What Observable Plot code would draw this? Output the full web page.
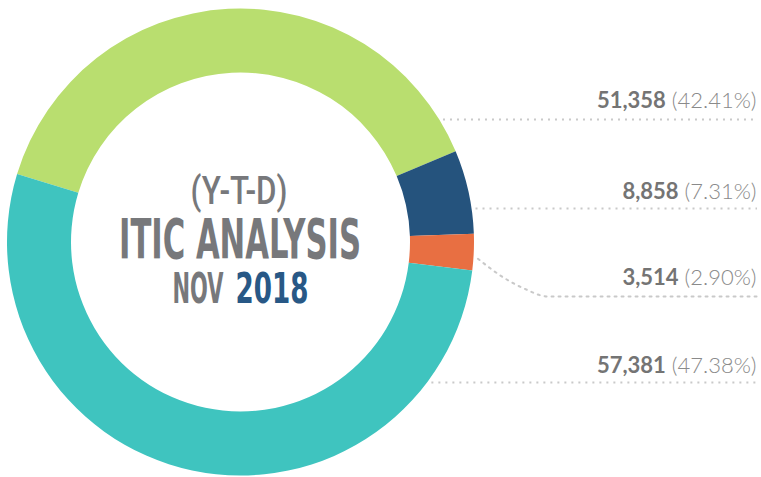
<!DOCTYPE html>
<html>
<head>
<meta charset="utf-8">
<script src="https://cdn.jsdelivr.net/npm/d3@7"></script>
<script src="https://cdn.jsdelivr.net/npm/@observablehq/plot@0.6"></script>
<style>
  html, body { margin: 0; padding: 0; background: #ffffff; }
  #chart svg { display: block; }
</style>
</head>
<body>
<div id="chart"></div>
<script>
// ---------- data ----------
const categories = ["Segment 1", "Segment 2", "Segment 3", "Segment 4"];
const counts = [51358, 8858, 3514, 57381];
const percents = ["42.41%", "7.31%", "2.90%", "47.38%"];
// slice sizes as they are drawn in the picture (percent of the ring)
const arcShares = [38.95, 5.8, 2.5, 52.75];
const sliceColors = ["#b9de6f", "#25537d", "#e86f42", "#3fc4bf"];
const headline = ["(Y-T-D)", "ITIC ANALYSIS"];
const monthLabel = ["NOV"];
const yearLabel = ["2018"];

// ---------- layout ----------
const W = 761, H = 477;
const CX = 240.5, CY = 242, R_OUT = 233.5, R_IN = 169.5;
const START = -73.1 * Math.PI / 180;
const labelRight = 756;
const labelBaselines = [107, 198, 284, 372];
const leaderY = [119, 208, 296, 382];
const gray = "#77787b";
const condensed = "'DejaVu Sans Condensed', 'DejaVu Sans', sans-serif";

const slices = categories.map((category, i) => ({
  category, count: counts[i], percent: percents[i], share: arcShares[i], i
}));

// donut drawn with d3.arc, placed through Plot's x/y and color scales
function donutMark(index, scales) {
  const pie = d3.pie().sort(null).value(d => d.share)
    .startAngle(START).endAngle(START + 2 * Math.PI);
  const arc = d3.arc().innerRadius(R_IN).outerRadius(R_OUT);
  const g = d3.create("svg:g")
    .attr("aria-label", "donut")
    .attr("transform", `translate(${scales.x(CX)},${scales.y(CY)})`);
  g.selectAll("path").data(pie(slices)).join("path")
    .attr("d", arc)
    .attr("fill", d => scales.color(d.data.category));
  return g.node();
}

// leader lines
const edgeX = y => CX + Math.sqrt(R_OUT * R_OUT - (y - CY) * (y - CY));
const straightLeaders = [0, 1, 3].map(i => ({
  x1: edgeX(leaderY[i]) + 4, x2: labelRight + 1, y: leaderY[i]
}));
const pieArcs = d3.pie().sort(null).value(d => d.share)
  .startAngle(START).endAngle(START + 2 * Math.PI)(slices);
const midA = (pieArcs[2].startAngle + pieArcs[2].endAngle) / 2 + 0.025;
const sx = CX + (R_OUT + 4) * Math.sin(midA), sy = CY - (R_OUT + 4) * Math.cos(midA);
const curvePts = [
  [sx, sy],
  [sx + 26, sy + 19],
  [sx + 46, leaderY[2] - 8],
  [sx + 70, leaderY[2]],
  [labelRight + 1, leaderY[2]]
];

const dotted = { stroke: "#c9c9c9", strokeWidth: 2, strokeDasharray: "2,5" };

const plot = Plot.plot({
  width: W,
  height: H,
  margin: 0,
  x: { domain: [0, W], range: [0, W], axis: null },
  y: { domain: [0, H], range: [0, H], axis: null },
  color: { domain: categories, range: sliceColors },
  style: { background: "#ffffff" },
  marks: [
    Plot.dot(slices, { x: () => CX, y: () => CY, r: 0, fill: "category" }),
    donutMark,
    Plot.ruleY(straightLeaders, { x1: "x1", x2: "x2", y: "y", ...dotted }),
    Plot.line(curvePts, { x: d => d[0], y: d => d[1], curve: "monotone-x", ...dotted }),
    Plot.text(slices, {
      x: () => labelRight,
      y: d => labelBaselines[d.i],
      text: d => d3.format(",")(d.count),
      textAnchor: "end",
      lineAnchor: "bottom",
      fontSize: 22,
      fontFamily: "Lato, 'Noto Sans', sans-serif",
      fontWeight: "bold",
      fill: "#747474",
      ariaDescription: "values"
    }),
    Plot.text([headline[0]], {
      x: () => CX - 2, y: () => 203, text: d => d,
      textAnchor: "middle", lineAnchor: "bottom",
      fontSize: 38, fontFamily: "Roboto, 'DejaVu Sans', sans-serif", fontWeight: 500, fill: gray,
      ariaDescription: "hl0"
    }),
    Plot.text([headline[1]], {
      x: () => CX - 1, y: () => 257, text: d => d,
      textAnchor: "middle", lineAnchor: "bottom",
      fontSize: 55, fontFamily: condensed, fontWeight: "bold", fill: gray,
      ariaDescription: "hl1"
    }),
    Plot.text(monthLabel, {
      x: () => 172, y: () => 302, text: d => d,
      textAnchor: "start", lineAnchor: "bottom",
      fontSize: 43, fontFamily: condensed, fontWeight: "bold", fill: gray,
      ariaDescription: "month"
    }),
    Plot.text(yearLabel, {
      x: () => 235, y: () => 302, text: d => d,
      textAnchor: "start", lineAnchor: "bottom",
      fontSize: 43, fontFamily: condensed, fontWeight: "bold", fill: "#285886",
      ariaDescription: "year"
    })
  ]
});

// value labels: add the percentage part as a lighter tspan
plot.querySelectorAll('g[aria-description="values"] text').forEach((t, i) => {
  const ts = document.createElementNS("http://www.w3.org/2000/svg", "tspan");
  ts.setAttribute("font-weight", "300");
  ts.setAttribute("fill", "#8a8a8a");
  ts.textContent = ` (${slices[i].percent})`;
  t.appendChild(ts);
});
// condensed display lettering widths
const fit = { hl0: 97, hl1: 242, month: 51, year: 73 };
for (const [k, w] of Object.entries(fit)) {
  plot.querySelectorAll(`g[aria-description="${k}"] text`).forEach(t => {
    t.setAttribute("textLength", w);
    t.setAttribute("lengthAdjust", "spacingAndGlyphs");
  });
}

document.getElementById("chart").appendChild(plot);
</script>
</body>
</html>
